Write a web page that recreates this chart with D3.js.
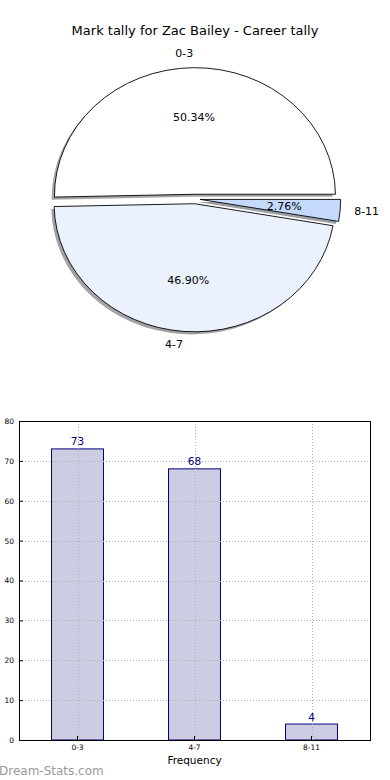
<!DOCTYPE html>
<html>
<head>
<meta charset="utf-8">
<script src="https://cdn.jsdelivr.net/npm/d3@7"></script>
<style>
  body { margin: 0; background: #fff; }
  svg { display: block; font-family: 'DejaVu Sans', sans-serif; }
</style>
</head>
<body>
<svg id="chart" width="390" height="780"></svg>
<script>
const title = 'Mark tally for Zac Bailey - Career tally';
const categories = ['0-3', '4-7', '8-11'];
const counts = [73, 68, 4];
const pieColors = ['#ffffff', '#ebf1fd', '#c5d9fc'];
const yTicks = [0, 10, 20, 30, 40, 50, 60, 70, 80];

const svg = d3.select('#chart');

svg.append('text')
  .attr('x', 195)
  .attr('y', 35)
  .attr('text-anchor', 'middle')
  .attr('font-size', 13)
  .text(title);

// ---- pie (matplotlib style: starts at 3 o'clock, counter-clockwise, squashed) ----
const cx = 195, cy = 199, rx = 140.5, ry = 128;
const explode = 0.037;
const total = d3.sum(counts);

const pie = d3.pie().sort(null)
  .startAngle(Math.PI / 2)
  .endAngle(Math.PI / 2 - 2 * Math.PI);
const arcs = pie(counts);
const arc = d3.arc().innerRadius(0).outerRadius(1);

// screen point for a d3 angle a at fraction r of the radius
const pt = (a, r) => [r * rx * Math.sin(a), -r * ry * Math.cos(a)];

const slices = arcs.map((d, i) => {
  const mid = (d.startAngle + d.endAngle) / 2;
  const [ox, oy] = pt(mid, explode);
  return { d, i, mid, ox: cx + ox, oy: cy + oy };
});

const pieG = svg.append('g');

// shadows first
slices.forEach((s) => {
  const c = d3.color(pieColors[s.i]);
  const shade = d3.rgb(c.r * 0.3, c.g * 0.3, c.b * 0.3);
  pieG.append('path')
    .attr('transform', `translate(${s.ox - 0.02 * rx},${s.oy + 0.02 * ry}) scale(${rx},${ry})`)
    .attr('d', arc(s.d))
    .attr('fill', shade)
    .attr('fill-opacity', 0.5);
});

slices.forEach((s) => {
  pieG.append('path')
    .attr('transform', `translate(${s.ox},${s.oy}) scale(${rx},${ry})`)
    .attr('d', arc(s.d))
    .attr('fill', pieColors[s.i])
    .attr('stroke', '#000')
    .attr('stroke-width', 0.9)
    .attr('vector-effect', 'non-scaling-stroke');
});

slices.forEach((s) => {
  const [lx, ly] = pt(s.mid, 1.1);
  pieG.append('text')
    .attr('x', s.ox + lx)
    .attr('y', s.oy + ly)
    .attr('dy', '0.35em')
    .attr('font-size', 11)
    .attr('text-anchor', lx < 0 ? 'end' : 'start')
    .text(categories[s.i]);

  const [px, py] = pt(s.mid, 0.6);
  pieG.append('text')
    .attr('x', s.ox + px)
    .attr('y', s.oy + py)
    .attr('dy', '0.35em')
    .attr('font-size', 11)
    .attr('text-anchor', 'middle')
    .text((counts[s.i] / total * 100).toFixed(2) + '%');
});

// ---- bar chart ----
const m = { left: 19, right: 370, top: 421, bottom: 740 };

const x = d3.scaleBand()
  .domain(categories)
  .range([m.left, m.right])
  .paddingInner(0.556)
  .paddingOuter(0.278);

const y = d3.scaleLinear()
  .domain([0, 80])
  .range([m.bottom, m.top]);

const barG = svg.append('g');

barG.selectAll('rect.bar')
  .data(counts)
  .enter()
  .append('rect')
  .attr('class', 'bar')
  .attr('x', (_, i) => x(categories[i]))
  .attr('y', (d) => y(d))
  .attr('width', x.bandwidth())
  .attr('height', (d) => y(0) - y(d))
  .attr('fill', '#ccccE3')
  .attr('stroke', '#000080')
  .attr('stroke-width', 1);

// dotted grid above the bars
const grid = barG.append('g')
  .attr('stroke', '#b0b0b0')
  .attr('stroke-width', 1)
  .attr('stroke-dasharray', '1,2');

grid.selectAll('line.h')
  .data(yTicks)
  .enter()
  .append('line')
  .attr('x1', m.left)
  .attr('x2', m.right)
  .attr('y1', (d) => Math.round(y(d)) + 0.5)
  .attr('y2', (d) => Math.round(y(d)) + 0.5);

grid.selectAll('line.v')
  .data(categories)
  .enter()
  .append('line')
  .attr('x1', (d) => Math.round(x(d) + x.bandwidth() / 2) + 0.5)
  .attr('x2', (d) => Math.round(x(d) + x.bandwidth() / 2) + 0.5)
  .attr('y1', m.top)
  .attr('y2', m.bottom);

barG.selectAll('text.val')
  .data(counts)
  .enter()
  .append('text')
  .attr('x', (_, i) => x(categories[i]) + x.bandwidth() / 2)
  .attr('y', (d) => y(d) - 3.5)
  .attr('text-anchor', 'middle')
  .attr('font-size', 10.5)
  .attr('fill', '#000080')
  .text((d) => d);

// axes with inward ticks
const yAxis = d3.axisLeft(y).tickValues(yTicks).tickSizeInner(-4).tickSizeOuter(0).tickPadding(5);
const yg = barG.append('g').attr('transform', `translate(${m.left},0)`).call(yAxis);
yg.select('.domain').remove();
yg.selectAll('text').attr('font-size', 7.5).attr('font-family', 'DejaVu Sans');

const xAxis = d3.axisBottom(x).tickSizeInner(-4).tickSizeOuter(0).tickPadding(5);
const xg = barG.append('g').attr('transform', `translate(0,${m.bottom})`).call(xAxis);
xg.select('.domain').remove();
xg.selectAll('text').attr('font-size', 7.5).attr('font-family', 'DejaVu Sans');

barG.append('rect')
  .attr('x', m.left + 0.5)
  .attr('y', m.top + 0.5)
  .attr('width', m.right - m.left)
  .attr('height', m.bottom - m.top)
  .attr('fill', 'none')
  .attr('stroke', '#000')
  .attr('stroke-width', 1);

svg.append('text')
  .attr('x', (m.left + m.right) / 2)
  .attr('y', 764)
  .attr('text-anchor', 'middle')
  .attr('font-size', 10.5)
  .text('Frequency');

svg.append('text')
  .attr('x', -1)
  .attr('y', 775)
  .attr('font-size', 12)
  .attr('fill', '#999999')
  .text('Dream-Stats.com');
</script>
</body>
</html>
